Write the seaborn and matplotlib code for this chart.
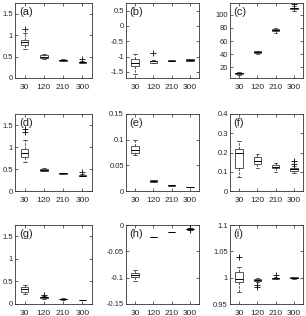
import numpy as np
import pandas as pd
import seaborn as sns
import matplotlib
matplotlib.use('Agg')
import matplotlib.pyplot as plt
from matplotlib.ticker import FuncFormatter

# --- dados: [bigode inf, q1, mediana, q3, bigode sup] por grupo ---
grupos = ['30', '120', '210', '300']

a_stats = [[0.68, 0.76, 0.83, 0.89, 1.05], [0.45, 0.47, 0.50, 0.53, 0.57],
           [0.39, 0.40, 0.41, 0.43, 0.44], [0.35, 0.36, 0.37, 0.38, 0.40]]
a_out = [[1.15], [], [], [0.44]]

b_stats = [[-1.57, -1.31, -1.20, -1.09, -0.93], [-1.22, -1.20, -1.16, -1.13, -1.10],
           [-1.16, -1.15, -1.13, -1.11, -1.10], [-1.14, -1.13, -1.11, -1.09, -1.08]]
b_out = [[], [-0.88], [], []]

c_stats = [[9, 10, 11, 12, 13], [41, 42, 43.2, 44.5, 45.5],
           [72, 75.5, 76.8, 78, 80], [106.5, 108.5, 110, 111, 113.5]]
c_out = [[], [], [], [116]]

d_stats = [[0.65, 0.77, 0.86, 0.96, 1.16], [0.45, 0.46, 0.475, 0.51, 0.53],
           [0.38, 0.39, 0.40, 0.41, 0.42], [0.33, 0.34, 0.35, 0.36, 0.38]]
d_out = [[1.35, 1.42], [], [], [0.43]]

e_stats = [[0.070, 0.075, 0.080, 0.087, 0.100], [0.018, 0.0185, 0.019, 0.0205, 0.021],
           [0.010, 0.0105, 0.011, 0.0115, 0.012], [0.007, 0.0073, 0.0075, 0.0078, 0.008]]
e_out = [[], [], [], []]

f_stats = [[0.075, 0.12, 0.20, 0.22, 0.26], [0.118, 0.14, 0.158, 0.176, 0.19],
           [0.10, 0.12, 0.127, 0.135, 0.148], [0.095, 0.106, 0.113, 0.118, 0.13]]
f_out = [[], [], [], [0.142, 0.155]]

g_stats = [[0.23, 0.27, 0.33, 0.38, 0.43], [0.12, 0.14, 0.15, 0.16, 0.18],
           [0.09, 0.10, 0.11, 0.115, 0.13], [0.08, 0.083, 0.085, 0.088, 0.09]]
g_out = [[], [0.21], [], []]

h_stats = [[-0.106, -0.099, -0.0946, -0.0913, -0.0855], [-0.0235, -0.0232, -0.0228, -0.0224, -0.0221],
           [-0.0135, -0.0132, -0.013, -0.0128, -0.0125], [-0.0095, -0.0082, -0.0078, -0.0074, -0.0055]]
h_out = [[], [], [], []]

i_stats = [[0.972, 0.992, 0.997, 1.010, 1.020], [0.991, 0.994, 0.996, 0.998, 0.999],
           [0.997, 0.998, 0.999, 1.000, 1.001], [0.998, 0.999, 1.000, 1.001, 1.002]]
i_out = [[1.040], [0.986, 0.982], [1.005], []]

# limites e ticks de cada painel
paineis = [
    ('(a)', a_stats, a_out, (0, 1.75), [0, 0.5, 1, 1.5]),
    ('(b)', b_stats, b_out, (-1.7, 0.75), [-1.5, -1, -0.5, 0, 0.5]),
    ('(c)', c_stats, c_out, (4, 118), [20, 40, 60, 80, 100]),
    ('(d)', d_stats, d_out, (0, 1.75), [0, 0.5, 1, 1.5]),
    ('(e)', e_stats, e_out, (0, 0.15), [0, 0.05, 0.1, 0.15]),
    ('(f)', f_stats, f_out, (0, 0.4), [0, 0.1, 0.2, 0.3, 0.4]),
    ('(g)', g_stats, g_out, (0, 1.75), [0, 0.5, 1, 1.5]),
    ('(h)', h_stats, h_out, (-0.15, 0), [-0.15, -0.1, -0.05, 0]),
    ('(i)', i_stats, i_out, (0.95, 1.1), [0.95, 1, 1.05, 1.1]),
]


def amostra(st, out):
    # amostra sintética que reproduz exatamente os quartis e bigodes lidos
    lo, q1, med, q3, hi = st
    return [lo] + [q1] * 10 + [med] * 10 + [q3] * 10 + [hi] + list(out)


sns.set_style('ticks')
plt.rcParams['font.family'] = ['Liberation Sans', 'DejaVu Sans']

W, H = 306, 316
fig = plt.figure(figsize=(W / 100, H / 100), dpi=100)

colunas = [(15, 92), (126, 199), (230, 303)]
linhas = [(3, 78), (114, 191), (225, 304)]

for k, (rotulo, stats, outs, ylim, yticks) in enumerate(paineis):
    r, c = divmod(k, 3)
    x0, x1 = colunas[c]
    y0, y1 = linhas[r]
    ax = fig.add_axes([x0 / W, 1 - y1 / H, (x1 - x0) / W, (y1 - y0) / H])

    linhas_df = []
    for g, st, out in zip(grupos, stats, outs):
        for v in amostra(st, out):
            linhas_df.append({'grupo': g, 'valor': v})
    df = pd.DataFrame(linhas_df)

    sns.boxplot(data=df, x='grupo', y='valor', order=grupos, ax=ax,
                width=0.4, color='white', linecolor='#3a3a3a', linewidth=0.6,
                whiskerprops=dict(linestyle=(0, (3, 1.5))),
                medianprops=dict(color='black', linewidth=0.7),
                flierprops=dict(marker='+', markersize=4, markeredgecolor='black',
                                markeredgewidth=0.6))

    ax.set_xlim(-0.5, 3.5)
    ax.set_ylim(*ylim)
    ax.set_yticks(yticks)
    ax.yaxis.set_major_formatter(FuncFormatter(lambda v, p: '%g' % v))
    ax.set_xlabel('')
    ax.set_ylabel('')
    ax.tick_params(direction='in', length=2, width=0.5, labelsize=5.5,
                   top=True, right=True, pad=1.5)
    ax.tick_params(axis='x', pad=4, labelsize=6)
    for s in ax.spines.values():
        s.set_linewidth(0.6)
        s.set_color('#333333')
    ax.text(0.05, 0.95, rotulo, transform=ax.transAxes, fontsize=8,
            va='top', ha='left')

fig.savefig('out.png', dpi=100)
